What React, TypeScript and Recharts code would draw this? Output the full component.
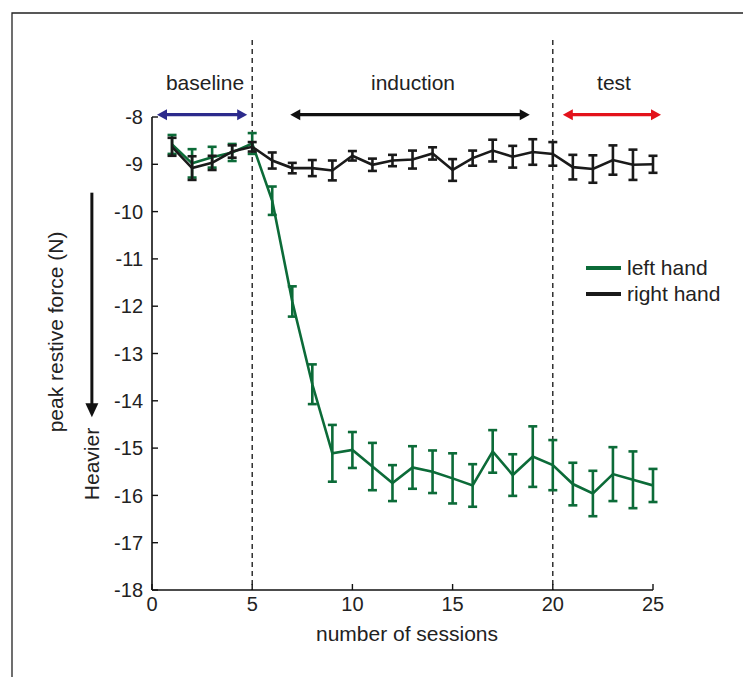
import React from 'react';
import { ComposedChart, Line, XAxis, YAxis, ErrorBar, ReferenceLine } from 'recharts';

const sessions = [1, 2, 3, 4, 5, 6, 7, 8, 9, 10, 11, 12, 13, 14, 15, 16, 17, 18, 19, 20, 21, 22, 23, 24, 25];
const leftHand = [-8.58, -8.98, -8.85, -8.75, -8.56, -9.77, -11.9, -13.65, -15.11, -15.04, -15.39, -15.74, -15.41, -15.5, -15.64, -15.79, -15.07, -15.57, -15.18, -15.36, -15.76, -15.96, -15.55, -15.67, -15.79];
const leftErr = [0.2, 0.3, 0.22, 0.18, 0.22, 0.3, 0.32, 0.42, 0.6, 0.38, 0.5, 0.38, 0.45, 0.45, 0.53, 0.45, 0.45, 0.44, 0.64, 0.53, 0.45, 0.48, 0.57, 0.6, 0.35];
const rightHand = [-8.63, -9.08, -8.97, -8.73, -8.63, -8.92, -9.08, -9.08, -9.13, -8.82, -9.01, -8.92, -8.9, -8.77, -9.12, -8.87, -8.71, -8.84, -8.74, -8.78, -9.06, -9.1, -8.91, -9.01, -9.0];
const rightErr = [0.19, 0.25, 0.15, 0.13, 0.1, 0.17, 0.11, 0.17, 0.21, 0.1, 0.13, 0.12, 0.19, 0.13, 0.23, 0.16, 0.23, 0.23, 0.27, 0.25, 0.26, 0.29, 0.31, 0.32, 0.18];
const xTicks = [0, 5, 10, 15, 20, 25];
const yTicks = [-8, -9, -10, -11, -12, -13, -14, -15, -16, -17, -18];
const phaseBounds = [5, 20];
const phases = [
  { name: 'baseline', from: 0.25, to: 4.75, color: '#2c2a8c' },
  { name: 'induction', from: 6.9, to: 18.85, color: '#111111' },
  { name: 'test', from: 20.5, to: 25.4, color: '#e3121b' },
];

const GREEN = '#0c6b38';
const BLACK = '#1a1a1a';
const FONT = '"Liberation Sans", Arial, Helvetica, sans-serif';

const data = sessions.map((s, i) => ({
  session: s,
  left: leftHand[i],
  leftErr: leftErr[i],
  right: rightHand[i],
  rightErr: rightErr[i],
}));

const makeArrow = (color: string, both: boolean, head: number, half: number, sw: number) => (props: any) => {
  const { x1, y1, x2, y2 } = props;
  if (x1 == null) return <g />;
  const dx = x2 - x1;
  const dy = y2 - y1;
  const len = Math.sqrt(dx * dx + dy * dy) || 1;
  const ux = dx / len;
  const uy = dy / len;
  const px = -uy;
  const py = ux;
  const headAt = (tx: number, ty: number, dirx: number, diry: number) => {
    const bx = tx - dirx * head;
    const by = ty - diry * head;
    return `${tx},${ty} ${bx + px * half},${by + py * half} ${bx - px * half},${by - py * half}`;
  };
  const sx = both ? x1 + ux * (head - 1) : x1;
  const sy = both ? y1 + uy * (head - 1) : y1;
  const ex = x2 - ux * (head - 1);
  const ey = y2 - uy * (head - 1);
  return (
    <g>
      <line x1={sx} y1={sy} x2={ex} y2={ey} stroke={color} strokeWidth={sw} />
      <polygon points={headAt(x2, y2, ux, uy)} fill={color} />
      {both && <polygon points={headAt(x1, y1, -ux, -uy)} fill={color} />}
    </g>
  );
};

export default function App() {
  return (
    <div style={{ position: 'absolute', left: 0, top: 0, width: 743, height: 677, background: '#fff', fontFamily: FONT }}>
      <svg width={743} height={677} style={{ position: 'absolute', left: 0, top: 0 }}>
        <path d="M12,700 L12,13 L760,13" fill="none" stroke="#222" strokeWidth={1.3} />
      </svg>
      <div style={{ position: 'absolute', left: 0, top: 0 }}>
        <ComposedChart
          width={743}
          height={677}
          data={data}
          margin={{ top: 117, right: 90, bottom: 57, left: 92 }}
        >
          <XAxis
            dataKey="session"
            type="number"
            domain={[0, 25]}
            ticks={xTicks}
            allowDataOverflow
            height={30}
            tickSize={-6}
            tickMargin={13}
            axisLine={{ stroke: '#111', strokeWidth: 1.6 }}
            tickLine={{ stroke: '#111', strokeWidth: 1.4 }}
            tick={{ fontSize: 20, fill: '#222', fontFamily: FONT }}
          />
          <YAxis
            type="number"
            domain={[-18, -8]}
            ticks={yTicks}
            allowDataOverflow
            width={60}
            tickSize={-6}
            tickMargin={15}
            axisLine={{ stroke: '#111', strokeWidth: 1.6 }}
            tickLine={{ stroke: '#111', strokeWidth: 1.4 }}
            tick={{ fontSize: 20, fill: '#222', fontFamily: FONT }}
          />
          {phaseBounds.map((b) => (
            <ReferenceLine
              key={'b' + b}
              segment={[{ x: b, y: -6.37 }, { x: b, y: -18 }]}
              ifOverflow="visible"
              stroke="#111"
              strokeWidth={1.3}
              strokeDasharray="5 4"
            />
          ))}
          {phases.map((p) => (
            <ReferenceLine
              key={p.name}
              segment={[{ x: p.from, y: -7.95 }, { x: p.to, y: -7.95 }]}
              ifOverflow="visible"
              shape={makeArrow(p.color, true, 10, 5.5, 3.2)}
            />
          ))}
          <ReferenceLine
            segment={[{ x: -3, y: -9.6 }, { x: -3, y: -14.35 }]}
            ifOverflow="visible"
            shape={makeArrow('#111', false, 14, 6.5, 3)}
          />
          <Line
            dataKey="left"
            stroke={GREEN}
            strokeWidth={2.6}
            dot={false}
            isAnimationActive={false}
          >
            <ErrorBar dataKey="leftErr" width={4.5} stroke={GREEN} strokeWidth={2.6} direction="y" isAnimationActive={false} />
          </Line>
          <Line
            dataKey="right"
            stroke={BLACK}
            strokeWidth={2.6}
            dot={false}
            isAnimationActive={false}
          >
            <ErrorBar dataKey="rightErr" width={4.5} stroke={BLACK} strokeWidth={2.6} direction="y" isAnimationActive={false} />
          </Line>
        </ComposedChart>
      </div>
      <svg width={743} height={677} style={{ position: 'absolute', left: 0, top: 0, pointerEvents: 'none' }}>
        <g fontFamily={FONT} fill="#222" fontSize={21}>
          <text x={205} y={90} textAnchor="middle">baseline</text>
          <text x={413} y={90} textAnchor="middle">induction</text>
          <text x={614} y={90} textAnchor="middle">test</text>
          <text x={407} y={641} textAnchor="middle">number of sessions</text>
          <text transform="translate(63,332) rotate(-90)" textAnchor="middle">peak restive force (N)</text>
          <text transform="translate(99,464) rotate(-90)" textAnchor="middle">Heavier</text>
          <line x1={586} y1={268} x2={621} y2={268} stroke={GREEN} strokeWidth={4} />
          <text x={627} y={275}>left hand</text>
          <line x1={586} y1={294} x2={621} y2={294} stroke={BLACK} strokeWidth={4} />
          <text x={627} y={301}>right hand</text>
        </g>
      </svg>
    </div>
  );
}
